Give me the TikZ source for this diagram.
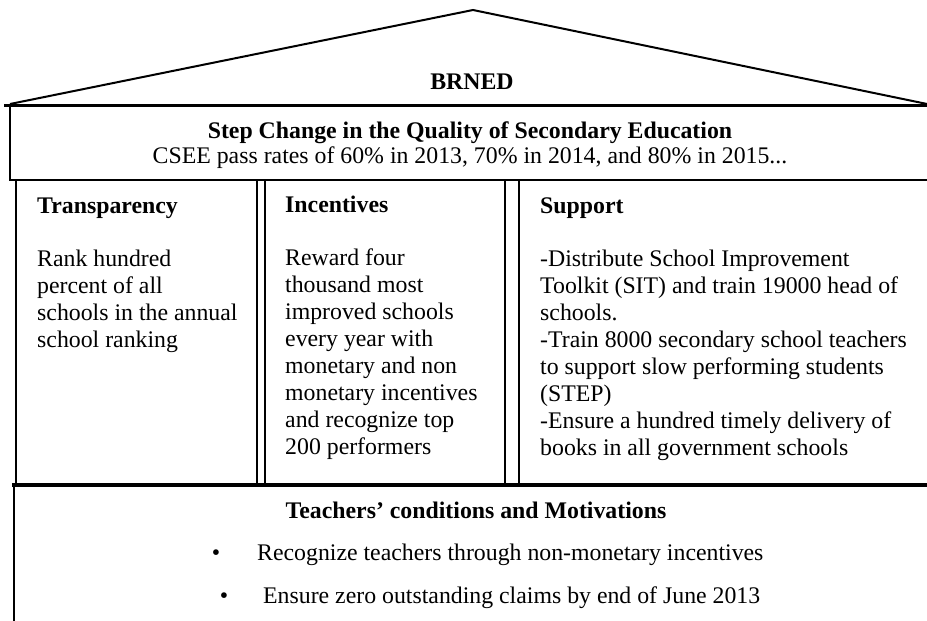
\documentclass[tikz,border=0pt]{standalone}
\usepackage{fontspec}
\setmainfont{Liberation Serif}
\begin{document}
\begin{tikzpicture}[x=1pt,y=-1pt,
  frame/.style={line width=2.6pt, line cap=rect},
  roofline/.style={line width=2pt, line join=miter},
  txt/.style={inner sep=0pt, font=\fontsize{23.8}{27.1}\selectfont, align=left, anchor=base west},
  head/.style={txt, font=\fontsize{23.8}{27.1}\selectfont\bfseries},
  ctxt/.style={txt, anchor=base}]
\useasboundingbox (0,0) rectangle (927,621);
\begin{scope}
\clip (0,0) rectangle (927,621);
% roof
\coordinate (roofL) at (10,104);
\coordinate (apex) at (473,10);
\coordinate (roofR) at (930,104.6);
\draw[roofline] (roofL) -- (apex) -- (roofR);
% top box
\draw[frame, line width=3pt] (5,105) -- (935,105);
\draw[frame] (10,105) -- (10,180) -- (935,180);
% pillars
\draw[frame] (16,180) -- (16,485);
\draw[frame] (257,180) -- (257,485);
\draw[frame] (265,180) -- (265,485);
\draw[frame] (505,180) -- (505,485);
\draw[frame] (519,180) -- (519,485);
\draw[frame, line width=4pt] (14,485) -- (935,485);
% bottom box
\draw[frame] (14,485) -- (14,640);
\end{scope}
% texts (multi-line nodes are anchored at the baseline of their last line)
\node[head, anchor=base] (brned) at (472,89) {BRNED};
\node[head, anchor=base] (step) at (470,138) {Step Change in the Quality of Secondary Education};
\node[ctxt] (csee) at (470,163) {CSEE pass rates of 60\% in 2013, 70\% in 2014, and 80\% in 2015...};
\node[head] (transH) at (37,213) {Transparency};
\node[txt] (transB) at (37,347.3) {Rank hundred\\percent of all\\schools in the annual\\school ranking};
\node[head] (incH) at (285,212) {Incentives};
\node[txt] (incB) at (285,454.7) {Reward four\\thousand most\\improved schools\\every year with\\monetary and non\\monetary incentives\\and recognize top\\200 performers};
\node[head] (supH) at (540,213) {Support};
\node[txt] (supB) at (540,455.7) {-Distribute School Improvement\\Toolkit (SIT) and train 19000 head of\\schools.\\-Train 8000 secondary school teachers\\to support slow performing students\\(STEP)\\-Ensure a hundred timely delivery of\\books in all government schools};
\node[head, anchor=base] (teachH) at (476,518) {Teachers’ conditions and Motivations};
\node[ctxt] (bul1) at (216,560) {\textbullet};
\node[txt] (item1) at (257,560) {Recognize teachers through non-monetary incentives};
\node[ctxt] (bul2) at (224,603) {\textbullet};
\node[txt] (item2) at (263,603) {Ensure zero outstanding claims by end of June 2013};
\end{tikzpicture}
\end{document}
